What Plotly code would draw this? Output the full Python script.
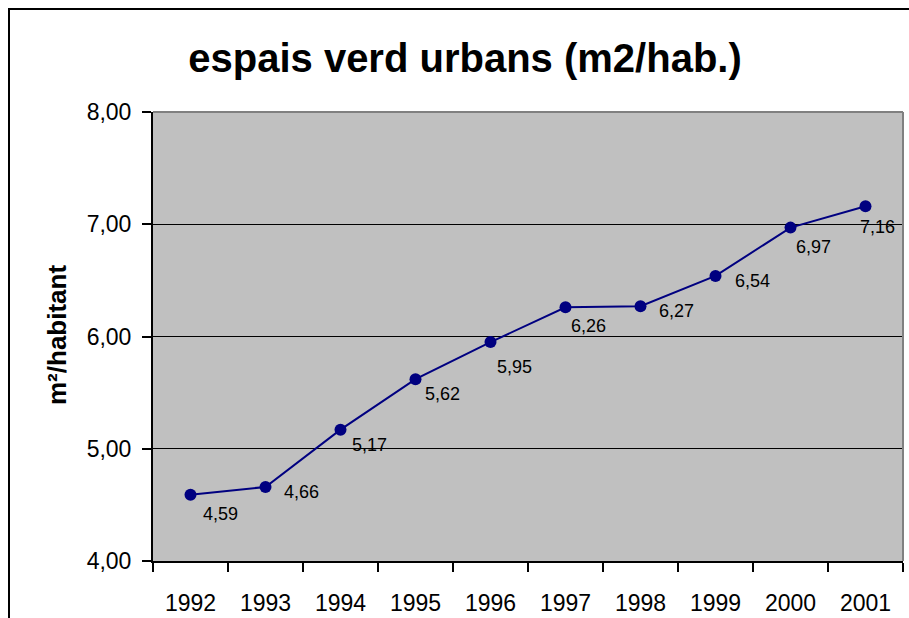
import plotly.graph_objects as go

years = ["1992", "1993", "1994", "1995", "1996", "1997", "1998", "1999", "2000", "2001"]
values = [4.59, 4.66, 5.17, 5.62, 5.95, 6.26, 6.27, 6.54, 6.97, 7.16]
value_labels = ["4,59", "4,66", "5,17", "5,62", "5,95", "6,26", "6,27", "6,54", "6,97", "7,16"]
y_ticks = [4, 5, 6, 7, 8]
y_tick_labels = ["4,00", "5,00", "6,00", "7,00", "8,00"]

# label placement offsets in pixels (style only): right, down
label_dx = [30, 36, 29, 27, 24, 23, 36, 37, 23, 12]
label_dy = [17, 3, 13, 13, 23, 17, 3, 3, 17, 19]

W, H = 909, 618
L, R, T, B = 153, 6, 112, 57

fig = go.Figure()
fig.add_trace(go.Scatter(
    x=years, y=values, mode="lines+markers",
    line=dict(color="#000080", width=2),
    marker=dict(color="#000080", size=12),
    cliponaxis=False, showlegend=False,
))

for i, (v, lab, dx, dy) in enumerate(zip(values, value_labels, label_dx, label_dy)):
    # x given as category index on the category axis
    fig.add_annotation(x=i, y=v, xref="x", yref="y", text=lab, showarrow=False,
                       xanchor="center", yanchor="middle",
                       xshift=dx, yshift=-dy - 2,
                       font=dict(family="Arial, Liberation Sans", size=18, color="black"))

pw = W - L - R
ph = H - T - B

fig.update_layout(
    width=W, height=H,
    margin=dict(l=L, r=R, t=T, b=B, pad=0, autoexpand=False),
    paper_bgcolor="white", plot_bgcolor="#C0C0C0",
    font=dict(family="Arial, Liberation Sans", color="black"),
    title=dict(text="<b>espais verd urbans (m2/hab.)</b>", xref="container", yref="container",
               x=465 / W, y=1 - 58 / H, xanchor="center", yanchor="middle",
               font=dict(size=40, color="black")),
    xaxis=dict(type="category", tickson="boundaries", ticks="outside", ticklen=9, tickwidth=1.5,
               tickcolor="black", showline=True, linecolor="black", linewidth=2,
               showgrid=False, zeroline=False, tickfont=dict(size=23), automargin=False,
               ticklabelstandoff=20, range=[-0.5, 9.5]),
    yaxis=dict(range=[4, 8], tickvals=y_ticks, ticktext=y_tick_labels, ticks="outside",
               ticklen=9, tickwidth=1.5, tickcolor="black", showline=True, linecolor="black",
               linewidth=2, showgrid=True, gridcolor="black", gridwidth=1, zeroline=False,
               tickfont=dict(size=23), ticklabelstandoff=6, automargin=False),
    separators=",.",
)

# plot area top/right border (gray)
fig.add_shape(type="line", xref="paper", yref="paper", x0=0, x1=1, y0=1, y1=1,
              line=dict(color="#808080", width=2), layer="above")
fig.add_shape(type="line", xref="paper", yref="paper", x0=1, x1=1, y0=0, y1=1,
              line=dict(color="#808080", width=2), layer="above")

# outer chart border
fig.add_shape(type="rect", xref="paper", yref="paper",
              x0=(9 - L) / pw, x1=(W + 20 - L) / pw,
              y0=(H - B - (H + 20)) / ph, y1=(H - B - 9) / ph,
              line=dict(color="black", width=2), fillcolor="rgba(0,0,0,0)", layer="below")

fig.add_annotation(text="<b>m²/habitant</b>", xref="paper", yref="paper",
                   x=(57 - L) / pw, y=(H - B - 335) / ph, textangle=-90,
                   showarrow=False, xanchor="center", yanchor="middle",
                   font=dict(size=26, color="black"))

fig.write_html("out.html", config={"displayModeBar": False},
               post_script="document.body.style.margin='0';document.body.style.overflow='hidden';")
